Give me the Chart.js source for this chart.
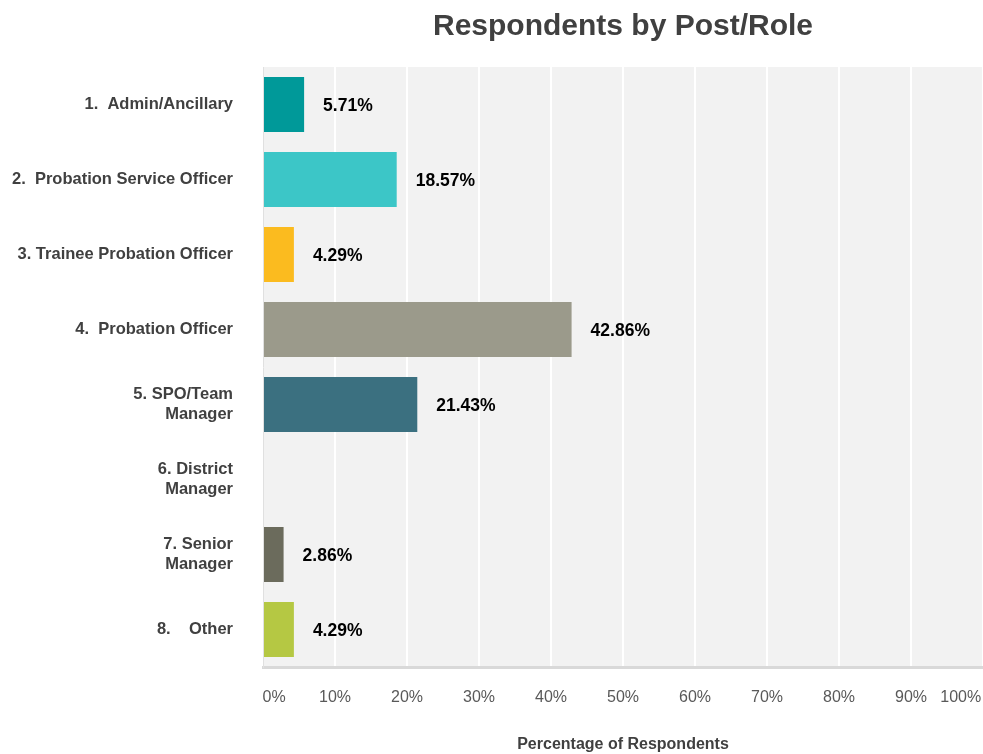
<!DOCTYPE html>
<html>
<head>
<meta charset="utf-8">
<script src="https://cdn.jsdelivr.net/npm/chart.js@4"></script>
<style>
body{margin:0;background:#fff;}
canvas{display:block;}
</style>
</head>
<body>
<canvas id="roleChart" width="983" height="754"></canvas>
<script>

const categories = [
    "1.  Admin/Ancillary",
    "2.  Probation Service Officer",
    "3. Trainee Probation Officer",
    "4.  Probation Officer",
    ["5. SPO/Team", "Manager"],
    ["6. District", "Manager"],
    ["7. Senior", "Manager"],
    "8.    Other"
];

const percentages = [5.71, 18.57, 4.29, 42.86, 21.43, 0, 2.86, 4.29];

const barColours = [
    "#009999",
    "#3cc6c7",
    "#fbbb1f",
    "#9b9a8b",
    "#3b7080",
    "#8c8c8c",
    "#6b6b5c",
    "#b5c843"
];

const xTicks = [0, 10, 20, 30, 40, 50, 60, 70, 80, 90, 100];

const fontFamily = "'Liberation Sans', Arial, sans-serif";

// grey panel behind the bars
const plotBackground = {
    id: "plotBackground",
    beforeDraw(chart){
        const a = chart.chartArea;
        const ctx = chart.ctx;
        ctx.save();
        ctx.fillStyle = "#f2f2f2";
        ctx.fillRect(a.left, a.top, a.right - a.left, a.bottom - a.top);
        ctx.restore();
    }
};

// percentage text to the right of each bar
const barValues = {
    id: "barValues",
    afterDatasetsDraw(chart){
        const ctx = chart.ctx;
        const meta = chart.getDatasetMeta(0);
        ctx.save();
        ctx.font = "bold 17.5px " + fontFamily;
        ctx.fillStyle = "#000";
        ctx.textAlign = "left";
        ctx.textBaseline = "middle";
        meta.data.forEach((bar, i)=>{
            const v = percentages[i];
            if(!v) return;
            ctx.fillText(v.toFixed(2) + "%", bar.x + 19, bar.y + 1.5);
        });
        ctx.restore();
    }
};

new Chart(
document.getElementById("roleChart"),
{
    type: "bar",
    data: {
        labels: categories,
        datasets: [{
            data: percentages,
            backgroundColor: barColours,
            categoryPercentage: 1,
            barPercentage: 0.735
        }]
    },
    options: {
        indexAxis: "y",
        responsive: false,
        animation: false,
        layout: { padding: 0 },
        plugins: {
            legend: { display: false },
            tooltip: { enabled: false },
            title: {
                display: true,
                text: "Respondents by Post/Role",
                fullSize: false,
                color: "#404040",
                font: { family: fontFamily, size: 30, weight: "bold" },
                padding: { top: 9, bottom: 22 }
            }
        },
        scales: {
            x: {
                min: 0,
                max: 100,
                afterBuildTicks(scale){
                    scale.ticks = xTicks.map(v=>({ value: v }));
                },
                afterFit(scale){
                    scale.height = 87;
                    scale.paddingLeft = 0;
                    scale.paddingRight = 0;
                },
                grid: {
                    color: "#ffffff",
                    lineWidth: 2,
                    drawTicks: false
                },
                border: { display: true, color: "#d9d9d9", width: 3 },
                ticks: {
                    autoSkip: false,
                    minRotation: 0,
                    maxRotation: 0,
                    padding: 21,
                    color: "#595959",
                    font: { family: fontFamily, size: 16 },
                    callback(value){
                        if(value === 0) return "\u00a0\u00a0\u00a0\u00a0\u00a00%";
                        if(value === 100) return "100%" + "\u00a0".repeat(10);
                        return value + "%";
                    }
                },
                title: {
                    display: true,
                    text: "Percentage of Respondents",
                    color: "#404040",
                    font: { family: fontFamily, size: 16, weight: "bold" },
                    padding: { top: 4, bottom: 0 }
                }
            },
            y: {
                afterFit(scale){
                    scale.width = 263;
                    scale.paddingTop = 0;
                    scale.paddingBottom = 0;
                },
                grid: { display: false, drawTicks: false },
                border: { display: true, color: "#e0e0e0", width: 1 },
                ticks: {
                    padding: 30,
                    color: "#404040",
                    font: { family: fontFamily, size: 16.5, weight: "bold" }
                }
            }
        }
    },
    plugins: [plotBackground, barValues]
});
</script>
</body>
</html>
